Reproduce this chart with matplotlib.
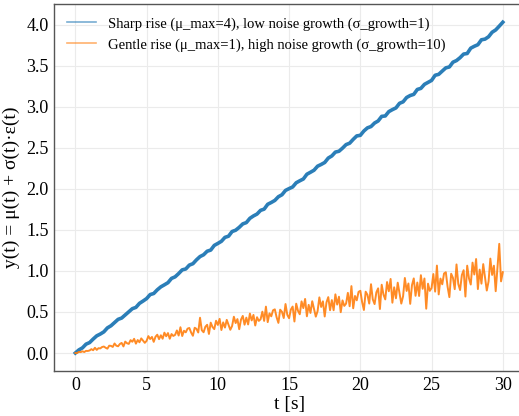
import numpy as np
import matplotlib.pyplot as plt

plt.rcParams['font.family'] = ['Liberation Serif', 'DejaVu Serif']

# Zeitachsen (s)
t_sharp = np.arange(121) * 0.25
t_gentle = np.arange(241) * 0.125

# Sharp rise (mu_max=4), wenig Rauschen
y_sharp = [
    0.000, 0.038, 0.063, 0.108, 0.127, 0.170, 0.209, 0.231,
    0.258, 0.306, 0.332, 0.371, 0.410, 0.426, 0.464, 0.502,
    0.540, 0.556, 0.605, 0.633, 0.663, 0.712, 0.725, 0.770,
    0.806, 0.831, 0.857, 0.909, 0.928, 0.968, 1.013, 1.024,
    1.071, 1.088, 1.135, 1.175, 1.197, 1.240, 1.254, 1.311,
    1.335, 1.361, 1.409, 1.423, 1.480, 1.496, 1.531, 1.573,
    1.589, 1.641, 1.670, 1.693, 1.738, 1.753, 1.812, 1.834,
    1.859, 1.904, 1.928, 1.981, 2.003, 2.023, 2.074, 2.098,
    2.120, 2.178, 2.202, 2.227, 2.276, 2.297, 2.321, 2.375,
    2.401, 2.448, 2.458, 2.496, 2.539, 2.556, 2.603, 2.645,
    2.652, 2.705, 2.743, 2.759, 2.802, 2.827, 2.883, 2.888,
    2.941, 2.965, 2.986, 3.042, 3.060, 3.113, 3.137, 3.151,
    3.211, 3.224, 3.273, 3.297, 3.321, 3.384, 3.395, 3.435,
    3.474, 3.485, 3.543, 3.563, 3.598, 3.642, 3.649, 3.714,
    3.737, 3.756, 3.816, 3.824, 3.853, 3.908, 3.936, 3.982,
    4.030,
]

# Gentle rise (mu_max=1), starkes Rauschen
y_gentle = [
    0.000, 0.000, 0.014, 0.011, 0.021, 0.012, 0.026, 0.025,
    0.031, 0.047, 0.034, 0.064, 0.038, 0.059, 0.056, 0.073,
    0.079, 0.064, 0.053, 0.089, 0.087, 0.074, 0.116, 0.089,
    0.082, 0.110, 0.123, 0.080, 0.139, 0.119, 0.111, 0.157,
    0.137, 0.173, 0.114, 0.158, 0.131, 0.178, 0.152, 0.124,
    0.148, 0.206, 0.170, 0.196, 0.136, 0.198, 0.223, 0.169,
    0.216, 0.174, 0.248, 0.204, 0.243, 0.174, 0.231, 0.208,
    0.221, 0.275, 0.213, 0.314, 0.207, 0.271, 0.252, 0.297,
    0.305, 0.250, 0.210, 0.308, 0.294, 0.250, 0.430, 0.277,
    0.253, 0.320, 0.344, 0.232, 0.370, 0.317, 0.291, 0.393,
    0.342, 0.416, 0.280, 0.373, 0.310, 0.404, 0.345, 0.283,
    0.329, 0.442, 0.365, 0.413, 0.290, 0.407, 0.452, 0.345,
    0.431, 0.348, 0.481, 0.397, 0.464, 0.335, 0.436, 0.391,
    0.411, 0.504, 0.391, 0.565, 0.376, 0.483, 0.447, 0.521,
    0.532, 0.435, 0.367, 0.528, 0.502, 0.426, 0.597, 0.465,
    0.424, 0.530, 0.566, 0.384, 0.601, 0.514, 0.472, 0.629,
    0.547, 0.659, 0.447, 0.587, 0.488, 0.631, 0.537, 0.443,
    0.510, 0.678, 0.561, 0.630, 0.445, 0.617, 0.681, 0.521,
    0.645, 0.521, 0.715, 0.590, 0.686, 0.497, 0.641, 0.574,
    0.602, 0.733, 0.570, 0.815, 0.545, 0.695, 0.642, 0.745,
    0.758, 0.621, 0.524, 0.747, 0.709, 0.602, 0.838, 0.653,
    0.596, 0.739, 0.788, 0.536, 0.832, 0.712, 0.653, 0.865,
    0.752, 0.902, 0.613, 0.801, 0.666, 0.857, 0.730, 0.602,
    0.691, 0.914, 0.756, 0.847, 0.599, 0.827, 0.909, 0.697,
    0.859, 0.695, 0.948, 0.782, 0.908, 0.540, 0.845, 0.757,
    0.792, 0.962, 0.748, 1.065, 0.714, 0.907, 0.837, 0.969,
    0.984, 0.806, 0.681, 0.966, 0.916, 0.778, 1.079, 0.841,
    0.767, 0.949, 1.009, 0.688, 1.064, 0.909, 0.834, 1.101,
    0.956, 1.145, 0.779, 1.016, 0.845, 1.083, 0.923, 0.761,
    0.872, 1.150, 0.951, 1.064, 0.753, 1.036, 1.330, 0.873,
    0.985,
]

fig = plt.figure(figsize=(5.19, 4.16), dpi=100)
ax = fig.add_axes([0.104, 0.108, 0.906, 0.882])

ax.plot(t_sharp, y_sharp, color='#1f77b4', lw=2.6, alpha=0.95,
        label='Sharp rise (μ_max=4), low noise growth (σ_growth=1)')
ax.plot(t_gentle, y_gentle, color='#ff7f0e', lw=1.4, alpha=0.9,
        label='Gentle rise (μ_max=1), high noise growth (σ_growth=10)')

ax.set_xlim(-1.5, 31.5)
ax.set_ylim(-0.22, 4.25)
ax.set_xticks([0, 5, 10, 15, 20, 25, 30])
ax.set_yticks([0.0, 0.5, 1.0, 1.5, 2.0, 2.5, 3.0, 3.5, 4.0])
ax.set_yticklabels(['0.0', '0.5', '1.0', '1.5', '2.0', '2.5', '3.0', '3.5', '4.0'])
ax.tick_params(length=0, labelsize=13, pad=4)
ax.grid(True, color='#ebebeb', lw=0.8)
ax.set_axisbelow(True)
for s in ax.spines.values():
    s.set_color('#555555')
    s.set_linewidth(1.0)

ax.set_xlabel('t [s]', fontsize=14, labelpad=2)
ax.set_ylabel('y(t) = μ(t) + σ(t)·ε(t)', fontsize=14)

leg = ax.legend(loc='upper left', frameon=False, fontsize=10.5)
for h in leg.get_lines():
    h.set_linewidth(1.2)
    h.set_alpha(0.6)

fig.savefig('out.png', dpi=100)
